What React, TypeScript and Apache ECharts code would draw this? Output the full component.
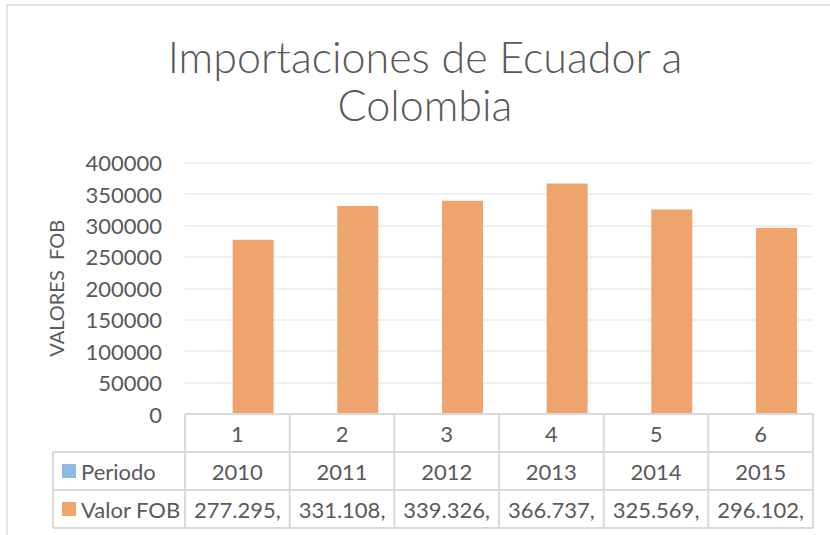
import React, { useEffect, useRef } from "react";
import * as echarts from "echarts";

const categories = ["1", "2", "3", "4", "5", "6"];
const periodo = [2010, 2011, 2012, 2013, 2014, 2015];
const valorFOB = [277295, 331108, 339326, 366737, 325569, 296102];
const yTicks = { min: 0, max: 400000, interval: 50000 };
const titleLines = ["Importaciones de Ecuador a", "Colombia"];
const yAxisName = "VALORES  FOB";
const seriesNames = ["Periodo", "Valor FOB"];

const W = 830;
const H = 535;
const GL = 185;
const GR = 813;
const GT = 162.7;
const GB = 414;
const ROW = 38;
const LEG_L = 53;
const TXT = "#595959";
const LINE = "#D9D9D9";
const BLUE = "#8FBAE3";
const ORANGE = "#F0A46D";
const FONT = "Lato, 'Open Sans', sans-serif";
const FS = 22;

export default function App() {
  const ref = useRef<HTMLDivElement>(null);
  useEffect(() => {
    document.body.style.margin = "0";
    if (!ref.current) return;
    const chart = echarts.init(ref.current, null, { renderer: "svg" });
    const colW = (GR - GL) / categories.length;
    const graphics: any[] = [];
    graphics.push({
      type: "rect",
      shape: { x: 7, y: 5, width: 900, height: 700 },
      style: { fill: "none", stroke: LINE, lineWidth: 1.3 },
      silent: true,
    });
    titleLines.forEach((t, i) => {
      graphics.push({
        type: "text",
        x: 425,
        y: 56 + i * 48,
        style: {
          text: t,
          fill: TXT,
          font: `300 43px ${FONT}`,
          align: "center",
          verticalAlign: "middle",
        },
      });
    });
    const rowsY = [GB, GB + ROW, GB + 2 * ROW, GB + 3 * ROW];
    rowsY.forEach((y, i) => {
      graphics.push({
        type: "line",
        shape: { x1: i === 0 ? GL : LEG_L, y1: y, x2: GR, y2: y },
        style: { stroke: LINE, lineWidth: 2 },
        z: 10,
      });
    });
    for (let k = 0; k <= categories.length; k++) {
      const x = GL + k * colW;
      graphics.push({
        type: "line",
        shape: { x1: x, y1: GB, x2: x, y2: GB + 3 * ROW },
        style: { stroke: LINE, lineWidth: 2 },
        z: 10,
      });
    }
    graphics.push({
      type: "line",
      shape: { x1: LEG_L, y1: GB + ROW, x2: LEG_L, y2: GB + 3 * ROW },
      style: { stroke: LINE, lineWidth: 2 },
      z: 10,
    });
    const legendColors = [BLUE, ORANGE];
    seriesNames.forEach((n, i) => {
      const cy = GB + ROW * (i + 1) + ROW / 2;
      graphics.push({
        type: "rect",
        shape: { x: 62, y: cy - 7, width: 14, height: 14 },
        style: { fill: legendColors[i] },
      });
      graphics.push({
        type: "text",
        x: 81,
        y: cy,
        style: {
          text: n,
          fill: TXT,
          font: `${FS}px ${FONT}`,
          align: "left",
          verticalAlign: "middle",
        },
      });
    });
    categories.forEach((_, k) => {
      const cx = GL + (k + 0.5) * colW;
      graphics.push({
        type: "text",
        x: cx,
        y: GB + ROW * 1.5,
        style: {
          text: String(periodo[k]),
          fill: TXT,
          font: `${FS}px ${FONT}`,
          align: "center",
          verticalAlign: "middle",
        },
      });
      graphics.push({
        type: "text",
        x: cx,
        y: GB + ROW * 2.5,
        style: {
          text: (valorFOB[k] / 1000).toFixed(3) + ",",
          fill: TXT,
          font: `${FS}px ${FONT}`,
          align: "center",
          verticalAlign: "middle",
        },
      });
    });

    chart.setOption({
      animation: false,
      grid: { left: GL, right: W - GR, top: GT, bottom: H - GB },
      xAxis: {
        type: "category",
        data: categories,
        axisLine: { show: false },
        axisTick: { show: false },
        axisLabel: {
          color: TXT,
          fontSize: FS,
          fontFamily: FONT,
          margin: 19,
          verticalAlign: "middle",
        },
      },
      yAxis: {
        type: "value",
        min: yTicks.min,
        max: yTicks.max,
        interval: yTicks.interval,
        name: yAxisName,
        nameLocation: "middle",
        nameRotate: 90,
        nameGap: 119,
        nameTextStyle: { color: TXT, fontSize: 20, fontFamily: FONT },
        axisLabel: {
          color: TXT,
          fontSize: FS,
          fontFamily: FONT,
          margin: 23,
          formatter: (v: number) => String(v),
        },
        axisLine: { show: false },
        axisTick: { show: false },
        splitLine: { lineStyle: { color: "#EBEBEB", width: 1.5 } },
      },
      series: [
        {
          name: seriesNames[0],
          type: "bar",
          data: periodo,
          barWidth: 41,
          barGap: "-23%",
          itemStyle: { color: BLUE, opacity: 0 },
          silent: true,
        },
        {
          name: seriesNames[1],
          type: "bar",
          data: valorFOB,
          barWidth: 41,
          barGap: "-23%",
          itemStyle: { color: ORANGE },
        },
      ],
      graphic: graphics,
    });
    return () => chart.dispose();
  }, []);
  return <div ref={ref} style={{ width: W, height: H }} />;
}
